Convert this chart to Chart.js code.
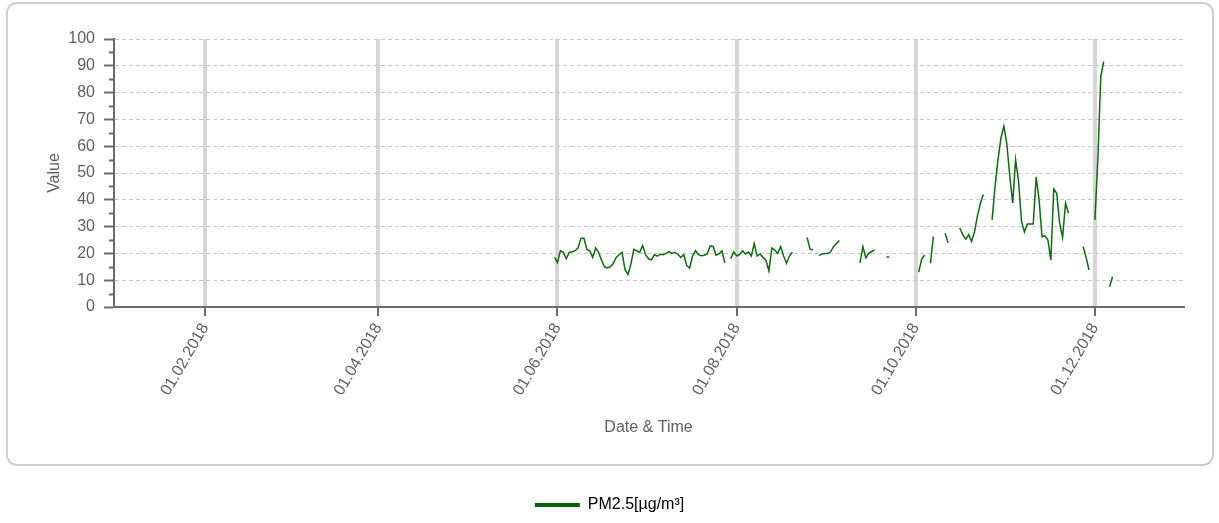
<!DOCTYPE html>
<html>
<head>
<meta charset="utf-8">
<title>PM2.5</title>
<script src="https://cdn.jsdelivr.net/npm/chart.js@4/dist/chart.umd.min.js"></script>
<style>
    body { margin: 0; background: #fff; }
    canvas { display: block; }
</style>
</head>
<body>
<canvas id="pmCtx" width="1219" height="523"></canvas>
<script>
// day of year (0 = 01.01.2018) of the first value
const startDay = 150;

// daily PM2.5 values, null = no data
const pm25 = [
    18.5, 16.6, 21, 20.4, 18, 20.4, 20.6, 21, 22, 25.6,
    25.7, 21.5, 21, 18.5, 22, 20.4, 17.5, 15, 14.6, 15,
    16.2, 18.5, 19.5, 20.4, 14, 12.2, 16, 21.5, 21, 20.4,
    22.9, 19.5, 18, 17.6, 19.5, 19, 19.7, 19.5, 20, 20.7,
    20, 20.4, 19.7, 18.5, 19.5, 15.5, 14.5, 19, 21, 19.5,
    19.1, 19.3, 19.8, 22.8, 22.6, 19.3, 19.8, 21, 16.5, null,
    18, 20.5, 19.1, 19.5, 21, 19.8, 20.5, 19, 23.7, 19,
    19.8, 18.5, 17.5, 13.5, 22, 21.2, 20, 22.5, 19, 16.3,
    19, 20.4, null, null, null, null, 26, 21.6, 21.3, null,
    19.2, 19.8, 20, 20, 20.6, 22.5, 23.7, 24.8, null, null,
    null, null, null, null, 16.5, 22.5, 18.3, 20, 20.7, 21.2,
    null, null, null, 18.7, 18.7, null, null, null, null, null,
    null, null, null, null, 13, 17.8, 19.4, null, 16.3, 26.3,
    null, null, null, 27.5, 24, null, null, null, 29.5, 27,
    25.3, 27, 24.5, 28, 34, 38.5, 42, null, null, 32.5,
    45, 55, 63, 67.5, 61, 49, 38.8, 55, 47, 32,
    28, 31, 31, 31, 48.5, 40, 26.2, 26.5, 25, 17.5,
    44, 42.4, 31.2, 26, 38.7, 35, null, null, null, null,
    22.5, 18.5, 13.8, null, 32.5, 55, 86, 91.6, null, 7.5,
    11.3
];

// x axis ticks (day of year) and their labels
const tickDays = [31, 90, 151, 212, 273, 334];
const tickLabels = ['01.02.2018', '01.04.2018', '01.06.2018', '01.08.2018', '01.10.2018', '01.12.2018'];

const seriesLabel = 'PM2.5[µg/m³]';
const lineColor = '#0b6e0b';
const axisColor = '#6b6b6b';
const textColor = '#606060';

Chart.defaults.font.family = "'Liberation Sans', Arial, sans-serif";
Chart.defaults.font.size = 16;
Chart.defaults.color = textColor;

// rounded frame around the plot and the small ticks between the labelled ones
const framePlugin = {
    id: 'frame',
    beforeDraw(chart) {
        const ctx = chart.ctx;
        ctx.save();
        ctx.strokeStyle = '#cfcfcf';
        ctx.lineWidth = 2;
        ctx.beginPath();
        ctx.roundRect(7, 3, 1206, 462, 10);
        ctx.stroke();
        ctx.restore();
    },
    afterDraw(chart) {
        const y = chart.scales.y;
        const ctx = chart.ctx;
        ctx.save();
        ctx.strokeStyle = axisColor;
        ctx.lineWidth = 2;
        ctx.beginPath();
        for (let v = 5; v < 100; v += 10) {
            const py = Math.round(y.getPixelForValue(v)) + 0.5;
            ctx.moveTo(y.right - 5, py);
            ctx.lineTo(y.right, py);
        }
        ctx.stroke();
        ctx.restore();
    }
};

const pmChart = new Chart(document.getElementById('pmCtx'), {
    type: 'line',
    data: {
        datasets: [{
            label: seriesLabel,
            data: pm25.map((v, i) => ({x: startDay + i, y: v})),
            borderColor: lineColor,
            backgroundColor: '#006400',
            borderWidth: 1.5,
            pointRadius: 0,
            tension: 0,
            spanGaps: false
        }]
    },
    options: {
        responsive: false,
        animation: false,
        layout: {padding: {left: 36, right: 36, top: 39, bottom: 0}},
        plugins: {
            tooltip: {enabled: false},
            legend: {
                position: 'bottom',
                labels: {
                    boxWidth: 45,
                    boxHeight: 4,
                    padding: 10,
                    color: '#222',
                    generateLabels: function (chart) {
                        return [{
                            text: seriesLabel,
                            fillStyle: '#006400',
                            strokeStyle: '#006400',
                            lineWidth: 0,
                            datasetIndex: 0
                        }];
                    }
                }
            }
        },
        scales: {
            x: {
                type: 'linear',
                min: 0,
                max: 364,
                afterBuildTicks: function (scale) {
                    scale.ticks = tickDays.map(d => ({value: d}));
                },
                afterFit: function (scale) {
                    scale.height = 180;
                },
                ticks: {
                    minRotation: 60,
                    maxRotation: 60,
                    padding: 4,
                    autoSkip: false,
                    callback: function (value, index) {
                        return tickLabels[index];
                    }
                },
                grid: {
                    color: '#d6d6d6',
                    lineWidth: 4,
                    tickLength: 9,
                    tickColor: axisColor,
                    tickWidth: 2
                },
                border: {color: axisColor, width: 2},
                title: {
                    display: true,
                    text: 'Date & Time',
                    padding: {top: 0, bottom: 50}
                }
            },
            y: {
                min: 0,
                max: 100,
                afterFit: function (scale) {
                    scale.width = 78;
                },
                ticks: {stepSize: 10, padding: 9},
                grid: {
                    color: '#c8c8c8',
                    lineWidth: 1,
                    tickLength: 10,
                    tickColor: axisColor,
                    tickWidth: 2,
                    tickBorderDash: []
                },
                border: {color: axisColor, width: 2, dash: [4, 3]},
                title: {
                    display: true,
                    text: 'Value',
                    padding: {top: 9, bottom: 0}
                }
            }
        }
    },
    plugins: [framePlugin]
});
</script>
</body>
</html>
